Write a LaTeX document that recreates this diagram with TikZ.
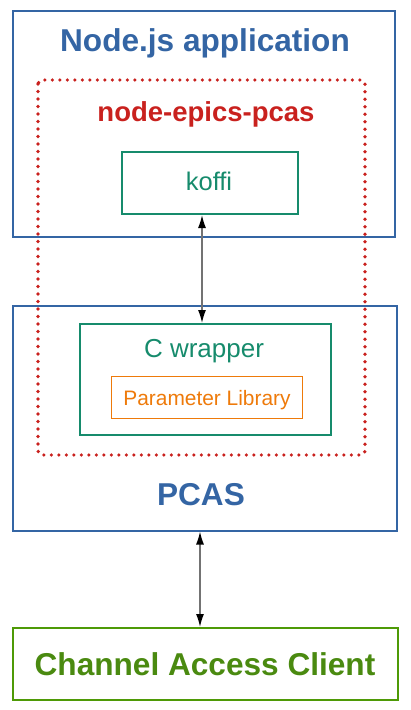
\documentclass[tikz,border=0pt]{standalone}
\usepackage{fontspec}
\setmainfont{Liberation Sans}
\definecolor{cblue}{HTML}{3465A4}
\definecolor{cred}{HTML}{C9211E}
\definecolor{cteal}{HTML}{168B6C}
\definecolor{corange}{HTML}{EE7A0A}
\definecolor{cgreen}{HTML}{4E9A06}
\definecolor{cgreentext}{HTML}{4A8A10}
\usetikzlibrary{arrows.meta}
\begin{document}
\begin{tikzpicture}[x=1pt,y=-1pt,
  box/.style={draw,rectangle,inner sep=0pt,anchor=north west},
  bluebox/.style={box,draw=cblue,line width=1.5pt},
  tealbox/.style={box,draw=cteal,line width=2pt},
  orangebox/.style={box,draw=corange,line width=1.3pt},
  greenbox/.style={box,draw=cgreen,line width=2pt},
  lbl/.style={inner sep=0pt,anchor=base},
  title/.style={lbl,font=\bfseries\fontsize{31.6}{36}\selectfont},
  arr/.style={draw=black!55,line width=1.4pt,{Latex[length=13pt,width=8pt,black]}-{Latex[length=13pt,width=8pt,black]}}]
\useasboundingbox (0,0) rectangle (411,710);
\node[bluebox,minimum width=382pt,minimum height=226pt] (nodejs) at (12,10) {};
\node[title,text=cblue] (nodejst) at (205,51.5) {Node.js application};
\node[bluebox,minimum width=384pt,minimum height=225pt] (pcas) at (12,305) {};
\node[title,text=cblue] (pcast) at (201,505) {PCAS};
\draw[cred,line width=3.7pt,line cap=round,dash pattern=on 0pt off 7.5pt,rounded corners=4pt] (38,80) rectangle (365,455);
\node[lbl,text=cred,font=\bfseries\fontsize{27.5}{32}\selectfont] (nep) at (206,121.5) {node-epics-pcas};
\node[tealbox,minimum width=176pt,minimum height=62pt] (koffi) at (121,151) {};
\node[lbl,text=cteal,font=\fontsize{25.5}{30}\selectfont] (koffit) at (209,190) {koffi};
\node[tealbox,minimum width=251pt,minimum height=111pt] (cwrap) at (79,323) {};
\node[lbl,text=cteal,font=\fontsize{26}{30}\selectfont] (cwrapt) at (204,357.5) {C wrapper};
\node[orangebox,minimum width=191pt,minimum height=42pt] (param) at (111,376) {};
\node[lbl,text=corange,font=\fontsize{20.9}{25}\selectfont] (paramt) at (207,405) {Parameter Library};
\node[greenbox,minimum width=385pt,minimum height=72pt] (cac) at (12,627) {};
\node[title,text=cgreentext] (cact) at (205,675) {Channel Access Client};
\draw[arr] (koffi.south -| 202,0) -- (cwrap.north -| 202,0);
\draw[arr] (pcas.south -| 200,0) -- (cac.north -| 200,0);
\end{tikzpicture}
\end{document}
